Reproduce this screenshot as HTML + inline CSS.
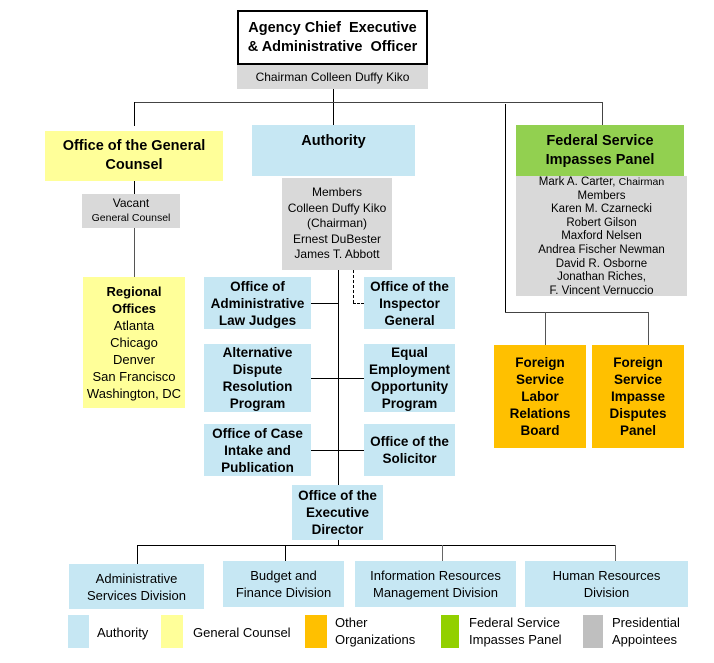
<!DOCTYPE html>
<html><head><meta charset="utf-8"><style>
body{margin:0;width:714px;height:663px;background:#fff;position:relative;overflow:hidden;font-family:"Liberation Sans",Arial,sans-serif;color:#000}
.b{position:absolute;display:flex;flex-direction:column;align-items:center;justify-content:center;text-align:center;box-sizing:border-box;line-height:17px}
.bold{font-weight:bold;font-size:13.5px}
.blue{background:#c6e7f3}.yel{background:#ffff99}.gray{background:#d9d9d9}.or{background:#ffc000}.gr{background:#92d050}
.l{position:absolute;background:#000}
.n{font-family:"Liberation Sans Narrow","Liberation Sans",sans-serif;font-size:13px;line-height:17px}
</style></head><body>
<!-- lines -->
<div class="l" style="left:333px;top:89px;width:1px;height:36px"></div>
<div class="l" style="left:134px;top:102px;width:469px;height:1px;background:#444"></div>
<div class="l" style="left:134px;top:102px;width:1px;height:24px"></div>
<div class="l" style="left:602px;top:102px;width:1px;height:23px;background:#444"></div>
<div class="l" style="left:505px;top:104px;width:1px;height:209px"></div>
<div class="l" style="left:505px;top:312px;width:144px;height:1px;background:#444"></div>
<div class="l" style="left:545px;top:312px;width:1px;height:33px;background:#555"></div>
<div class="l" style="left:648px;top:312px;width:1px;height:33px;background:#555"></div>
<div class="l" style="left:134px;top:181px;width:1px;height:14px"></div>
<div class="l" style="left:134px;top:228px;width:1px;height:49px;background:#555"></div>
<div class="l" style="left:338px;top:270px;width:1px;height:215px"></div>
<div style="position:absolute;left:353px;top:270px;height:33px;border-left:1px dashed #000"></div>
<div style="position:absolute;left:353px;top:303px;width:11px;border-top:1px dashed #000"></div>
<div class="l" style="left:311px;top:303px;width:27px;height:1px"></div>
<div class="l" style="left:311px;top:378px;width:53px;height:1px"></div>
<div class="l" style="left:311px;top:450px;width:53px;height:1px"></div>
<div class="l" style="left:338px;top:540px;width:1px;height:6px"></div>
<div class="l" style="left:137px;top:545px;width:479px;height:1px"></div>
<div class="l" style="left:137px;top:545px;width:1px;height:19px"></div>
<div class="l" style="left:285px;top:545px;width:1px;height:16px"></div>
<div class="l" style="left:442px;top:545px;width:1px;height:16px;background:#666"></div>
<div class="l" style="left:615px;top:545px;width:1px;height:16px;background:#666"></div>

<!-- boxes -->
<div class="b bold" style="left:237px;top:10px;width:191px;height:55px;border:2px solid #000;font-size:14.5px;line-height:19px">Agency Chief&nbsp; Executive<br>&amp; Administrative&nbsp; Officer</div>
<div class="b gray" style="left:237px;top:65px;width:191px;height:24px;font-size:12px">Chairman Colleen Duffy Kiko</div>

<div class="b yel bold" style="left:45px;top:131px;width:178px;height:50px;font-size:14.5px;line-height:19px">Office of the General<br>Counsel</div>
<div class="b gray" style="left:82px;top:194px;width:98px;height:34px;font-size:12px;line-height:15px">Vacant<br><span style="font-size:10.5px">General Counsel</span></div>
<div class="b yel" style="left:83px;top:277px;width:102px;height:131px;font-size:13px"><b>Regional<br>Offices</b>Atlanta<br>Chicago<br>Denver<br>San Francisco<br>Washington, DC</div>

<div class="b blue bold" style="left:252px;top:125px;width:163px;height:51px;font-size:14.5px;justify-content:flex-start;padding-top:8px">Authority</div>
<div class="b gray" style="left:282px;top:178px;width:110px;height:92px;font-size:12px;line-height:15.5px">Members<br>Colleen Duffy Kiko<br>(Chairman)<br>Ernest DuBester<br>James T. Abbott</div>

<div class="b blue bold" style="left:204px;top:277px;width:107px;height:52px">Office of<br>Administrative<br>Law Judges</div>
<div class="b blue bold" style="left:364px;top:277px;width:91px;height:52px">Office of the<br>Inspector<br>General</div>
<div class="b blue bold" style="left:204px;top:344px;width:107px;height:68px">Alternative<br>Dispute<br>Resolution<br>Program</div>
<div class="b blue bold" style="left:364px;top:344px;width:91px;height:68px">Equal<br>Employment<br>Opportunity<br>Program</div>
<div class="b blue bold" style="left:204px;top:424px;width:107px;height:52px">Office of Case<br>Intake and<br>Publication</div>
<div class="b blue bold" style="left:364px;top:424px;width:91px;height:52px">Office of the<br>Solicitor</div>
<div class="b blue bold" style="left:292px;top:485px;width:91px;height:55px">Office of the<br>Executive<br>Director</div>

<div class="b gr bold" style="left:516px;top:125px;width:168px;height:51px;font-size:14.5px;line-height:19px">Federal Service<br>Impasses Panel</div>
<div style="position:absolute;left:516px;top:176px;width:171px;height:120px;background:#d9d9d9;text-align:center;font-size:11.5px;line-height:13.6px;white-space:nowrap">Mark A. Carter, <span style="font-size:10.5px">Chairman</span><br>Members<br>Karen M. Czarnecki<br>Robert Gilson<br>Maxford Nelsen<br>Andrea Fischer Newman<br>David R. Osborne<br>Jonathan Riches,<br>F. Vincent Vernuccio</div>

<div class="b or bold" style="left:494px;top:345px;width:92px;height:103px">Foreign<br>Service<br>Labor<br>Relations<br>Board</div>
<div class="b or bold" style="left:592px;top:345px;width:92px;height:103px">Foreign<br>Service<br>Impasse<br>Disputes<br>Panel</div>

<div class="b blue n" style="left:69px;top:564px;width:135px;height:45px">Administrative<br>Services Division</div>
<div class="b blue n" style="left:223px;top:561px;width:121px;height:46px">Budget and<br>Finance Division</div>
<div class="b blue n" style="left:355px;top:561px;width:161px;height:46px">Information Resources<br>Management Division</div>
<div class="b blue n" style="left:525px;top:561px;width:163px;height:46px">Human Resources<br>Division</div>

<!-- legend -->
<div class="blue" style="position:absolute;left:68px;top:615px;width:21px;height:33px"></div>
<div class="n" style="position:absolute;left:97px;top:624px">Authority</div>
<div class="yel" style="position:absolute;left:161px;top:615px;width:22px;height:33px"></div>
<div class="n" style="position:absolute;left:193px;top:624px">General Counsel</div>
<div class="or" style="position:absolute;left:305px;top:615px;width:22px;height:33px"></div>
<div class="n" style="position:absolute;left:335px;top:614px">Other<br>Organizations</div>
<div style="position:absolute;left:441px;top:615px;width:18px;height:33px;background:#92d000"></div>
<div class="n" style="position:absolute;left:469px;top:614px">Federal Service<br>Impasses Panel</div>
<div style="position:absolute;left:583px;top:615px;width:20px;height:33px;background:#bfbfbf"></div>
<div class="n" style="position:absolute;left:612px;top:614px">Presidential<br>Appointees</div>
</body></html>
